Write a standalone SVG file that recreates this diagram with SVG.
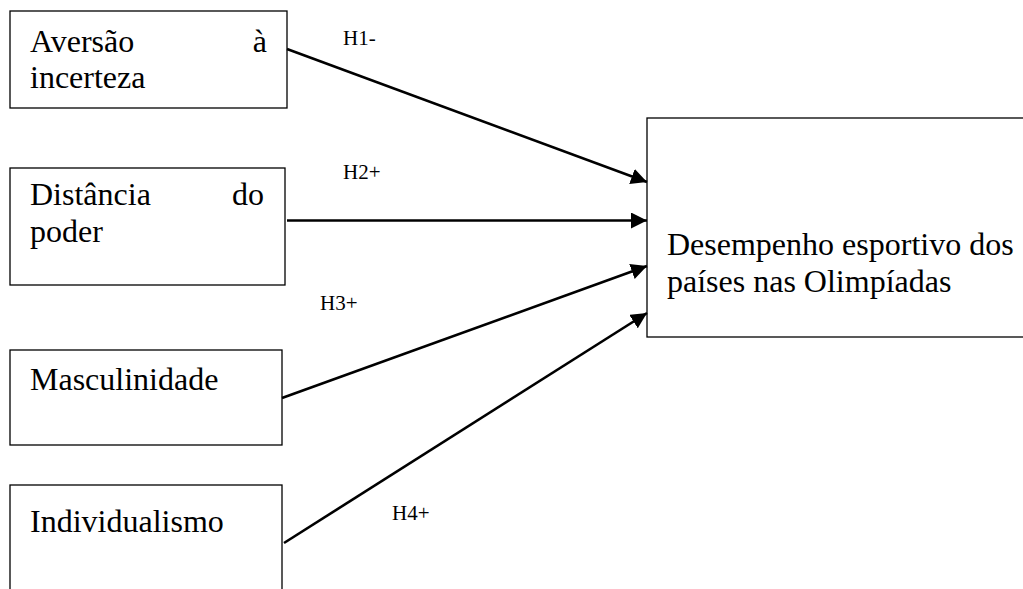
<svg xmlns="http://www.w3.org/2000/svg" width="1023" height="589" viewBox="0 0 1023 589">
<style>
.box{fill:#fff;stroke:#000;stroke-width:1.3}
.t{font-family:"Liberation Serif","Times New Roman",serif;font-size:32px;fill:#000}
.h{font-family:"Liberation Serif","Times New Roman",serif;font-size:21px;fill:#000}
.c{stroke:#000;stroke-width:2.6;fill:none;marker-end:url(#ah)}
</style>
<defs>
<marker id="ah" markerUnits="userSpaceOnUse" markerWidth="18" markerHeight="16" refX="16" refY="8" orient="auto">
<path d="M0,0 L16,8 L0,16 Z" fill="#000"/>
</marker>
</defs>
<g id="n1"><rect class="box" x="10" y="11" width="277" height="97"/>
<text class="t" x="30" y="52">Aversão</text><text class="t" x="267" y="52" text-anchor="end">à</text>
<text class="t" x="30" y="88">incerteza</text></g>
<g id="n2"><rect class="box" x="10" y="168" width="275" height="117"/>
<text class="t" x="30" y="205">Distância</text><text class="t" x="264" y="205" text-anchor="end">do</text>
<text class="t" x="30" y="242">poder</text></g>
<g id="n3"><rect class="box" x="10" y="350" width="272" height="95"/>
<text class="t" x="30" y="390">Masculinidade</text></g>
<g id="n4"><rect class="box" x="10" y="485" width="272" height="120"/>
<text class="t" x="30" y="532">Individualismo</text></g>
<g id="n5"><rect class="box" x="647" y="118" width="390" height="219"/>
<text class="t" x="667" y="255">Desempenho esportivo dos</text>
<text class="t" x="667" y="292">países nas Olimpíadas</text></g>
<g id="connectors">
<line class="c" x1="287" y1="49" x2="647" y2="182"/>
<line class="c" x1="287" y1="220.5" x2="647" y2="220.5"/>
<line class="c" x1="282" y1="398" x2="647" y2="266"/>
<line class="c" x1="284" y1="543" x2="647" y2="313"/>
<text class="h" x="343" y="45">H1-</text>
<text class="h" x="343" y="179">H2+</text>
<text class="h" x="320" y="310">H3+</text>
<text class="h" x="392" y="520">H4+</text>
</g>
</svg>
